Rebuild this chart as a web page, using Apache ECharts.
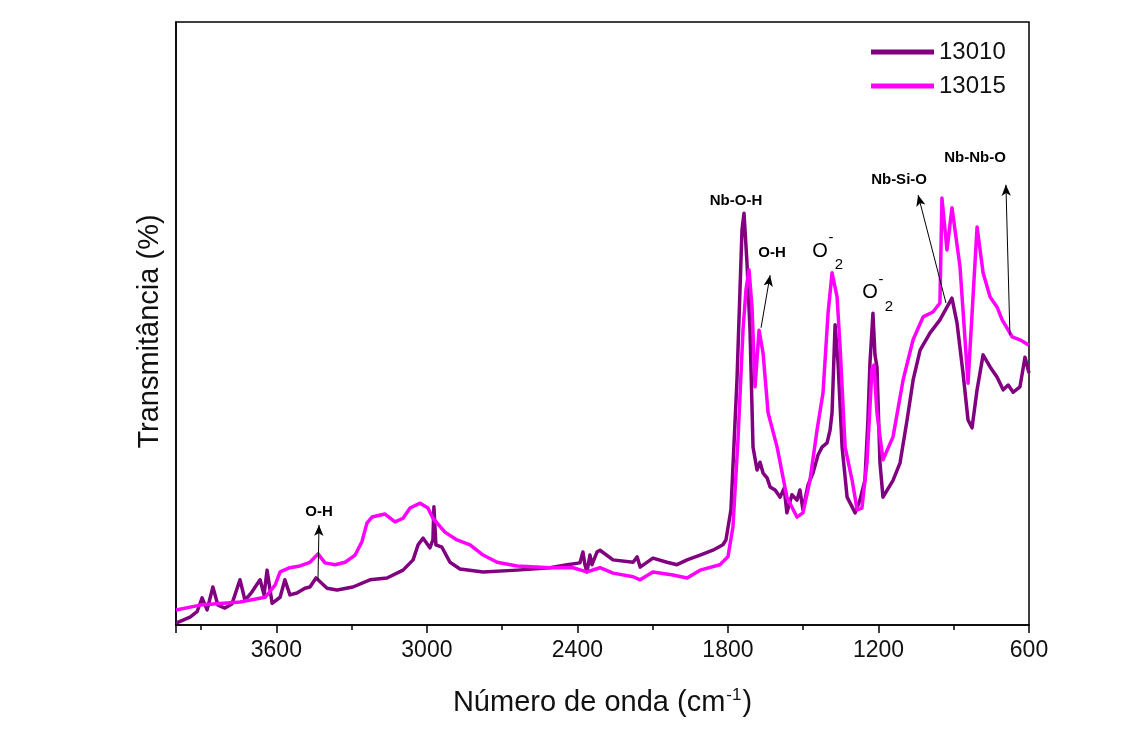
<!DOCTYPE html>
<html>
<head>
<meta charset="utf-8">
<script src="https://cdn.jsdelivr.net/npm/echarts@6/dist/echarts.min.js"></script>
<style>
  html, body { margin: 0; padding: 0; background: #fff; }
  #chart { width: 1125px; height: 733px; }
</style>
</head>
<body>
<div id="chart"></div>
<script>
// FTIR spectra of samples 13010 and 13015 (wavenumber in cm-1, transmittance in arbitrary %)
const seriesNames = ['13010', '13015'];

const wn13010 = [4000,3944,3916,3896,3876,3853,3833,3805,3777,3745,
  3725,3697,3665,3649,3637,3617,3585,3566,3546,3518,
  3486,3466,3442,3434,3398,3358,3295,3227,3159,3095,
  3055,3035,3015,2988,2976,2972,2964,2940,2908,2868,
  2776,2641,2509,2441,2390,2378,2370,2362,2350,2342,
  2322,2310,2258,2178,2162,2150,2099,2043,2003,1963,
  1911,1860,1820,1808,1788,1764,1744,1736,1724,1712,
  1700,1684,1672,1660,1644,1632,1612,1592,1576,1565,
  1545,1525,1513,1501,1481,1461,1441,1425,1405,1393,
  1385,1373,1361,1345,1325,1293,1274,1254,1242,1234,
  1222,1214,1206,1194,1182,1142,1114,1086,1062,1034,
  995,955,927,907,887,863,843,827,807,783,
  755,727,703,683,663,636,616,600];
const t13010 = [0.3,1.3,2.2,4.5,2.5,6.3,3.3,2.8,3.5,7.5,
  4.1,5.5,7.5,5.0,9.1,3.6,4.6,7.5,5.0,5.3,
  6.1,6.3,7.8,7.5,6.1,5.8,6.3,7.5,7.8,9.1,
  10.8,13.3,14.4,12.8,14.1,19.6,13.3,12.9,10.4,9.3,
  8.8,9.1,9.5,10.0,10.3,12.1,10.0,8.8,11.6,10.0,
  12.1,12.4,10.8,10.4,11.3,9.6,11.1,10.4,10.0,10.8,
  11.6,12.4,13.3,14.1,19.1,40.6,65.5,68.3,60.0,48.9,
  29.5,25.7,27.0,25.2,24.4,22.9,22.4,21.2,22.7,18.6,
  21.6,20.7,22.4,19.1,23.2,25.2,28.2,29.5,30.2,32.3,
  35.2,49.8,43.4,29.5,21.2,18.6,20.7,24.0,34.0,43.4,
  51.7,44.8,42.8,26.9,21.2,24.0,26.9,34.0,40.6,45.6,
  48.4,50.6,52.7,54.2,50.1,41.8,34.0,32.7,39.0,44.8,
  42.8,41.1,39.0,39.8,38.6,39.5,44.4,41.8];

const wn13015 = [4000,3904,3745,3645,3605,3585,3546,3506,3466,3434,
  3406,3366,3326,3286,3259,3239,3219,3167,3127,3095,
  3067,3027,2996,2976,2928,2880,2828,2776,2720,2641,
  2509,2418,2362,2310,2258,2178,2150,2099,2019,1963,
  1911,1832,1800,1780,1760,1740,1728,1716,1704,1692,
  1676,1660,1640,1604,1565,1525,1501,1473,1445,1421,
  1401,1385,1365,1353,1333,1305,1285,1266,1246,1226,
  1218,1206,1182,1142,1102,1062,1022,983,955,947,
  927,907,875,843,807,783,755,727,707,667,
  636,600];
const t13015 = [2.5,3.3,3.8,4.6,6.6,8.8,9.5,9.8,10.4,11.8,
  10.3,10.0,10.4,11.6,13.8,16.9,17.9,18.4,17.1,17.7,
  19.4,20.2,19.4,17.7,15.4,14.1,13.3,11.6,10.4,9.8,
  9.5,9.5,8.8,9.5,8.6,8.0,7.5,8.8,8.3,7.8,
  9.1,10.0,11.3,16.3,30.7,48.9,55.6,58.9,52.7,39.5,
  48.9,45.1,35.2,29.5,21.2,17.9,18.6,24.0,32.3,38.5,
  51.7,58.4,54.4,46.1,29.5,24.0,19.1,19.4,26.9,42.3,
  43.1,35.2,27.4,31.2,40.6,47.3,51.1,51.9,53.4,70.8,
  62.2,69.2,59.4,40.1,66.0,58.4,54.4,52.7,50.6,47.8,
  47.3,46.4];

// Band assignments: label text and its anchor [wavenumber, transmittance]
const bandLabels = ['O-H', 'Nb-O-H', 'O-H', 'Nb-Si-O', 'Nb-Nb-O'];
const bandLabelPos = [[3430, 18.7], [1768, 70.3], [1624, 61.7], [1118, 73.8], [815, 77.4]];
// Arrows: [from, to] in data coordinates
const arrowLines = [
  [[3434, 7.5], [3430, 16.6]],
  [[1668, 49.3], [1632, 58.0]],
  [[931, 53.4], [1042, 71.3]],
  [[676, 48.1], [692, 73.0]]
];
// Superoxide (O2-) band labels
const superoxidePos = [[1433, 62.0], [1234, 55.1]];

const font = '"Liberation Sans", Arial, sans-serif';
const colors = ['#800080', '#FF00FF'];

const zip = (xs, ys) => xs.map((x, i) => [x, ys[i]]);

const chart = echarts.init(document.getElementById('chart'), null, { renderer: 'canvas' });

const option = {
  animation: false,
  backgroundColor: '#fff',
  color: colors,
  textStyle: { fontFamily: font },
  grid: { left: 176, right: 96, top: 22, bottom: 108, show: true, borderColor: '#000', borderWidth: 1.5, backgroundColor: 'transparent' },
  legend: {
    orient: 'vertical', left: 866, top: 35,
    itemWidth: 63, itemHeight: 5, itemGap: 10, icon: 'rect',
    textStyle: { fontSize: 24, color: '#111', fontFamily: font },
    data: seriesNames
  },
  xAxis: [
    {
      type: 'value', inverse: true, min: 600, max: 4000, interval: 600, position: 'bottom',
      axisLine: { lineStyle: { color: '#000', width: 1.5 } },
      axisTick: { length: 8, lineStyle: { color: '#000', width: 1.5 } },
      axisLabel: { fontSize: 23, color: '#111', margin: 14, fontFamily: font,
        formatter: v => (v > 3600 ? '' : String(v)) },
      splitLine: { show: false },
      name: 'Número de onda (cm{sup|-1})',
      nameLocation: 'middle', nameGap: 62,
      nameTextStyle: { fontSize: 29, color: '#111', fontFamily: font,
        rich: { sup: { fontSize: 17, color: '#111', fontFamily: font, verticalAlign: 'top', padding: [0, 1, 14, 1] } } }
    },
    {
      // minor ticks every 300 cm-1
      type: 'value', inverse: true, min: 600, max: 4000, interval: 300, position: 'bottom', offset: 0,
      axisLine: { show: false },
      axisTick: { length: 5, lineStyle: { color: '#000', width: 1.5 } },
      axisLabel: { show: false },
      splitLine: { show: false }
    }
  ],
  yAxis: {
    type: 'value', min: 0, max: 100,
    axisLine: { show: true, lineStyle: { color: '#000', width: 1.5 } },
    axisTick: { show: false }, axisLabel: { show: false }, splitLine: { show: false },
    name: 'Transmitância (%)', nameLocation: 'middle', nameGap: 12, nameRotate: 90,
    nameTextStyle: { fontSize: 29, color: '#111', fontFamily: font, padding: [0, 16, 0, 0] }
  },
  series: [
    {
      name: seriesNames[0], type: 'line', data: zip(wn13010, t13010),
      showSymbol: false, symbol: 'none', lineStyle: { width: 3.5, color: colors[0], join: 'round' },
      z: 2
    },
    {
      name: seriesNames[1], type: 'line', data: zip(wn13015, t13015),
      showSymbol: false, symbol: 'none', lineStyle: { width: 3.5, color: colors[1], join: 'round' },
      z: 3,
      markLine: {
        silent: true, animation: false,
        symbol: ['none', 'arrow'], symbolSize: [7, 11],
        lineStyle: { color: '#000', width: 1, type: 'solid' },
        label: { show: false },
        data: arrowLines.map(([a, b]) => [{ coord: a }, { coord: b }])
      }
    }
  ]
};

chart.setOption(option);

// Text annotations positioned through the axis scales
const toPx = p => chart.convertToPixel({ xAxisIndex: 0, yAxisIndex: 0 }, p);
const graphics = [];
bandLabels.forEach((txt, i) => {
  const [x, y] = toPx(bandLabelPos[i]);
  graphics.push({
    type: 'text', x, y, z: 10,
    style: { text: txt, font: 'bold 15px ' + font, fill: '#000', align: 'center', verticalAlign: 'middle' }
  });
});
superoxidePos.forEach(p => {
  const [x, y] = toPx(p);
  graphics.push({ type: 'text', x, y, z: 10,
    style: { text: 'O', font: '20px ' + font, fill: '#000', align: 'center', verticalAlign: 'middle' } });
  graphics.push({ type: 'text', x: x + 11, y: y - 13, z: 10,
    style: { text: '-', font: '15px ' + font, fill: '#000', align: 'center', verticalAlign: 'middle' } });
  graphics.push({ type: 'text', x: x + 19, y: y + 14, z: 10,
    style: { text: '2', font: '15px ' + font, fill: '#000', align: 'center', verticalAlign: 'middle' } });
});
chart.setOption({ graphic: graphics });
</script>
</body>
</html>
